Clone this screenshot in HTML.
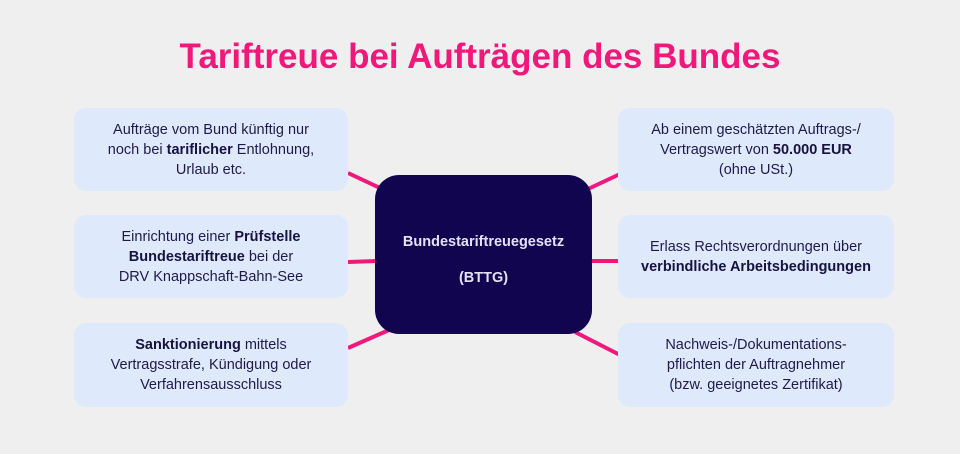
<!DOCTYPE html>
<html><head><meta charset="utf-8"><style>
body{margin:0;width:960px;height:454px;background:#efefef;position:relative;overflow:hidden;font-family:"Liberation Sans",sans-serif;}
.t{position:absolute;left:0;width:960px;top:37px;text-align:center;font-size:35px;font-weight:bold;color:#f0187a;}
.b{position:absolute;background:#dfe9fc;border-radius:12px;display:flex;align-items:center;justify-content:center;text-align:center;font-size:14.5px;line-height:20px;color:#1f1a4a;}
.b b{color:#17123f}
.c{position:absolute;left:375px;top:175px;width:217px;height:159px;background:#120550;border-radius:24px;color:#e4e0f7;font-weight:bold;font-size:14.5px;text-align:center;}
svg{position:absolute;left:0;top:0}
</style></head><body>
<svg width="960" height="454"><g stroke="#f0187a" stroke-width="4">
<line x1="348" y1="173" x2="382" y2="189"/>
<line x1="348" y1="262" x2="377" y2="261"/>
<line x1="348" y1="348" x2="389" y2="330"/>
<line x1="588" y1="189" x2="620" y2="174"/>
<line x1="590" y1="261" x2="620" y2="261"/>
<line x1="575" y1="332" x2="620" y2="355"/>
</g></svg>
<div class="t">Tariftreue bei Aufträgen des Bundes</div>
<div class="b" style="left:74px;top:108px;width:274px;height:83px"><div>Aufträge vom Bund künftig nur<br>noch bei <b>tariflicher</b> Entlohnung,<br>Urlaub etc.</div></div>
<div class="b" style="left:74px;top:215px;width:274px;height:83px"><div>Einrichtung einer <b>Prüfstelle</b><br><b>Bundestariftreue</b> bei der<br>DRV Knappschaft-Bahn-See</div></div>
<div class="b" style="left:74px;top:323px;width:274px;height:84px"><div><b>Sanktionierung</b> mittels<br>Vertragsstrafe, Kündigung oder<br>Verfahrensausschluss</div></div>
<div class="b" style="left:618px;top:108px;width:276px;height:83px"><div>Ab einem geschätzten Auftrags-/<br>Vertragswert von <b>50.000 EUR</b><br>(ohne USt.)</div></div>
<div class="b" style="left:618px;top:215px;width:276px;height:83px"><div>Erlass Rechtsverordnungen über<br><b>verbindliche Arbeitsbedingungen</b></div></div>
<div class="b" style="left:618px;top:323px;width:276px;height:84px"><div>Nachweis-/Dokumentations-<br>pflichten der Auftragnehmer<br>(bzw. geeignetes Zertifikat)</div></div>
<div class="c"><div style="position:absolute;top:59px;width:100%">Bundestariftreuegesetz</div><div style="position:absolute;top:95px;width:100%">(BTTG)</div></div>
</body></html>
